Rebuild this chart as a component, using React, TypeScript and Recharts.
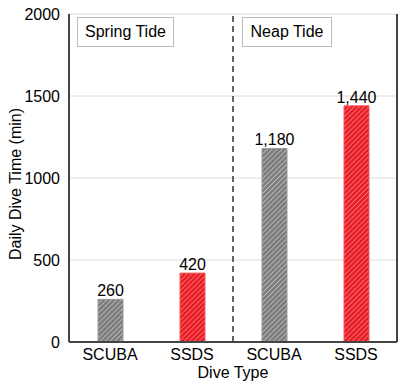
import { BarChart, Bar, XAxis, YAxis, CartesianGrid, Cell, LabelList, ReferenceLine } from 'recharts';

const categories = ['SCUBA', 'SSDS', 'SCUBA', 'SSDS'];
const diveMinutes = [260, 420, 1180, 1440];
const yTicks = [0, 500, 1000, 1500, 2000];
const groupLabels = ['Spring Tide', 'Neap Tide'];

const data = categories.map((name, i) => ({ pos: i + 1, name, value: diveMinutes[i] }));

const FONT = '"Liberation Sans", Arial, sans-serif';

export default function App() {
    return (
        <div style={{ position: 'absolute', left: 0, top: 0, width: 400, height: 386, background: '#fff', fontFamily: FONT }}>
            <BarChart width={400} height={386} data={data} margin={{ top: 14, right: 0, bottom: 0, left: 0 }}>
                <defs>
                    <pattern id="hatchGray" patternUnits="userSpaceOnUse" width={3.5} height={3.5} patternTransform="rotate(45)">
                        <rect width={3.5} height={3.5} fill="#7c7c7c" />
                        <line x1={0} y1={0} x2={0} y2={3.5} stroke="#b8b8b8" strokeWidth={1.8} />
                    </pattern>
                    <pattern id="hatchRed" patternUnits="userSpaceOnUse" width={3.5} height={3.5} patternTransform="rotate(45)">
                        <rect width={3.5} height={3.5} fill="#e61e28" />
                        <line x1={0} y1={0} x2={0} y2={3.5} stroke="#ff6b6b" strokeWidth={1.8} />
                    </pattern>
                </defs>
                <CartesianGrid vertical={false} stroke="#dcdcdc" />
                <XAxis
                    dataKey="pos"
                    type="number"
                    domain={[0.5, 4.5]}
                    ticks={[1, 2, 3, 4]}
                    tickFormatter={(v: number) => categories[v - 1]}
                    height={44}
                    tickLine={false}
                    axisLine={{ stroke: '#444', strokeWidth: 2 }}
                    tick={{ fontSize: 16, fill: '#000', fontFamily: FONT }}
                    tickMargin={1}
                    label={{ value: 'Dive Type', position: 'insideBottom', offset: 8, fontSize: 16, fill: '#000', fontFamily: FONT }}
                />
                <XAxis xAxisId="top" orientation="top" dataKey="pos" type="number" domain={[0.5, 4.5]} height={0} tick={false} tickLine={false} axisLine={{ stroke: '#444', strokeWidth: 2 }} />
                <YAxis
                    domain={[0, 2000]}
                    ticks={yTicks}
                    width={69}
                    tickLine={false}
                    axisLine={{ stroke: '#444', strokeWidth: 2 }}
                    tick={{ fontSize: 16, fill: '#000', fontFamily: FONT }}
                    tickMargin={3}
                    label={{ value: 'Daily Dive Time (min)', angle: -90, position: 'insideLeft', offset: 15, textAnchor: 'middle', dy: 6, fontSize: 16, fill: '#000', fontFamily: FONT }}
                />
                <YAxis yAxisId="right" orientation="right" domain={[0, 2000]} width={3} tick={false} tickLine={false} axisLine={{ stroke: '#444', strokeWidth: 2 }} />
                <ReferenceLine x={2.5} stroke="#333" strokeWidth={1.5} strokeDasharray="6 4" />
                <Bar dataKey="value" barSize={25} isAnimationActive={false}>
                    {data.map((d, i) => (
                        <Cell key={i} fill={d.name === 'SSDS' ? 'url(#hatchRed)' : 'url(#hatchGray)'} stroke={d.name === 'SSDS' ? '#f25a5a' : '#9a9a9a'} strokeWidth={1} />
                    ))}
                    <LabelList dataKey="value" position="top" offset={3} formatter={(v: number) => v.toLocaleString('en-US')} style={{ fontSize: 16, fill: '#000', fontFamily: FONT }} />
                </Bar>
            </BarChart>
            <div style={{ position: 'absolute', left: 77, top: 17, width: 95, height: 28, border: '1px solid #bbb', background: '#fff', fontSize: 16, lineHeight: '28px', textAlign: 'center' }}>
                {groupLabels[0]}
            </div>
            <div style={{ position: 'absolute', left: 242, top: 17, width: 88, height: 28, border: '1px solid #bbb', background: '#fff', fontSize: 16, lineHeight: '28px', textAlign: 'center' }}>
                {groupLabels[1]}
            </div>
        </div>
    );
}
